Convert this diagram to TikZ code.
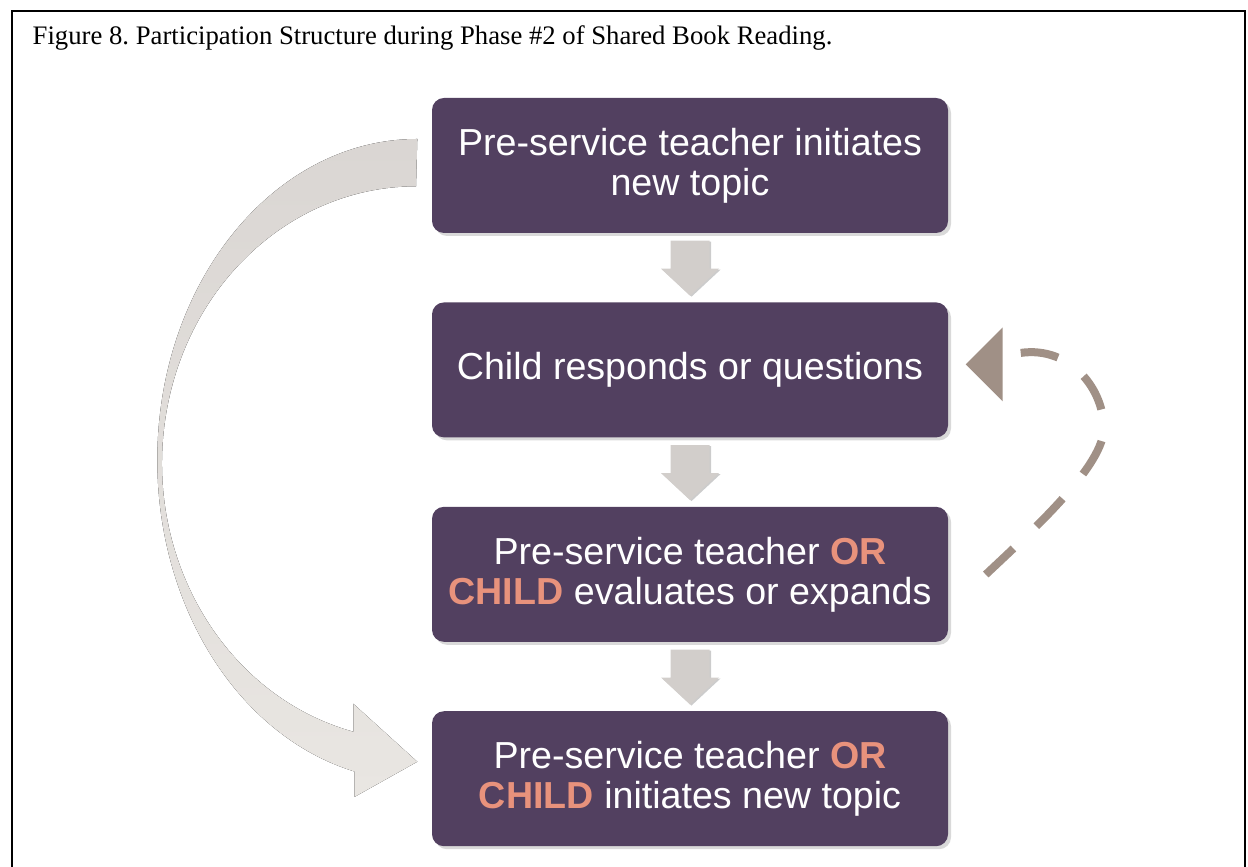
\documentclass[tikz,border=0pt]{standalone}
\usepackage{fontspec}
\setmainfont{Liberation Serif}
\setsansfont{Liberation Sans}
\usetikzlibrary{
arrows.meta,
calc,
positioning,
shadows
}
\definecolor{boxpurple}{HTML}{524060}
\definecolor{salmon}{HTML}{E8927C}
\definecolor{bendgrey}{HTML}{DAD6D3}
\definecolor{bendlight}{HTML}{E9E6E2}
\definecolor{stepgrey}{HTML}{D2CECB}
\definecolor{looptaupe}{HTML}{A09086}
\newcommand{\hilite}[1]{\textbf{\color{salmon}#1}}

\begin{document}
\begin{tikzpicture}[node distance=0.68cm, font=\sffamily,
	stagebox/.style={
		fill=boxpurple,
		rounded corners=0.12cm,
		minimum width=5.16cm,
		minimum height=1.35cm,
		align=center,
		text=white,
		font=\sffamily\fontsize{10.7}{11.4}\selectfont,
		drop shadow={shadow xshift=0.03cm, shadow yshift=-0.03cm, opacity=0.3}
	},
	stepdown/.style={fill=stepgrey, drop shadow={shadow xshift=0.015cm, shadow yshift=-0.01cm, opacity=0.4}},
	bendarrow/.style={top color=bendgrey, bottom color=bendlight, draw=none},
	loopline/.style={draw=looptaupe, line width=0.08cm, dash pattern=on 0.38cm off 0.32cm}]
		\useasboundingbox (0,0) rectangle (12.48,-8.67);
		\draw[line width=0.02cm] (0.12,-8.67) |- (12.45,-0.11) -- (12.45,-8.67);
		\node[anchor=base west, inner sep=0pt, font=\rmfamily\fontsize{7.6}{9}\selectfont] (caption) at (0.32,-0.45) {Figure 8.\ Participation Structure during Phase \#2 of Shared Book Reading.};
		
		\node[stagebox]                    (teacherinit) at (6.90,-1.655) {Pre-service teacher initiates\\new topic};
		\node[stagebox,below=of teacherinit] (childresp)   {Child responds or questions};
		\node[stagebox,below=of childresp]   (evaluate)    {Pre-service teacher \hilite{OR}\\\hilite{CHILD} evaluates or expands};
		\node[stagebox,below=of evaluate]    (newtopic)    {Pre-service teacher \hilite{OR}\\\hilite{CHILD} initiates new topic};
		
		\foreach \a in {teacherinit,childresp,evaluate}
			\fill[stepdown] ($(\a.south)+(-0.195,-0.07)$) -- ++(0.39,0) -- ++(0,-0.28) -- ++(0.095,0) -- ++(-0.29,-0.27) -- ++(-0.29,0.27) -- ++(0.095,0) -- cycle;
		
		\coordinate (bendtop) at ($(teacherinit.west)+(-0.14,0.265)$);
		\coordinate (bendtip) at ($(newtopic.west)+(-0.14,0.17)$);
		\fill[bendarrow] (bendtop) arc[start angle=90, end angle=256, x radius=2.60, y radius=3.21] -- ++(0,-0.255) -- (bendtip) -- ++(-0.64,0.58) -- ++(0,-0.28) arc[start angle=255.7, end angle=90, x radius=2.54, y radius=2.77] -- cycle;
		
		\coordinate (looptop)  at ($(childresp.east)+(0.72,0.17)$);
		\coordinate (loopfoot) at ($(evaluate.east)+(0.32,-0.05)$);
		\coordinate (looptip)  at ($(childresp.east)+(0.17,0.055)$);
		\draw[loopline] (looptop) .. controls +(0.50,0.07) and +(0.01,0.40) .. ($(looptop)+(0.83,-0.77)$) .. controls +(-0.02,-0.40) and +(0.42,0.40) .. (loopfoot);
		\fill[looptaupe] (looptip) -- ++(0.37,0.37) -- ++(0,-0.74) -- cycle;
	\end{tikzpicture}
\end{document}
